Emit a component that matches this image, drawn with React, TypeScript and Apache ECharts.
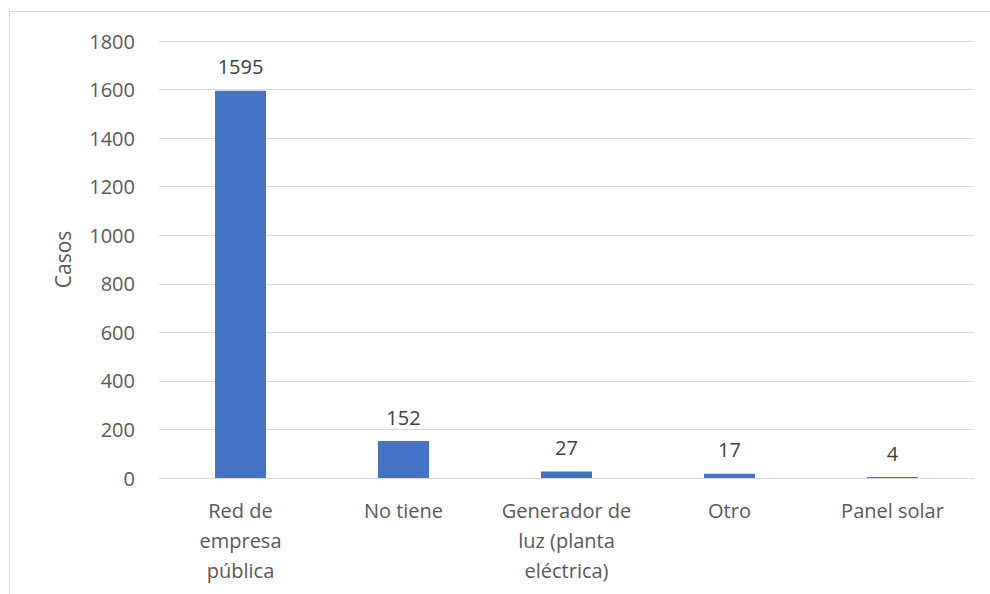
import React, { useEffect, useRef } from "react";
import * as echarts from "echarts";

const categories = [
  "Red de\nempresa\npública",
  "No tiene",
  "Generador de\nluz (planta\neléctrica)",
  "Otro",
  "Panel solar",
];
const values = [1595, 152, 27, 17, 4];
const yTicks = { min: 0, max: 1800, interval: 200 };
const axisName = "Casos";

export default function App() {
  const ref = useRef<HTMLDivElement>(null);
  useEffect(() => {
    if (!ref.current) return;
    const chart = echarts.init(ref.current, undefined, { renderer: "svg" });
    const font = "'Open Sans', sans-serif";
    chart.setOption({
      animation: false,
      backgroundColor: "#ffffff",
      graphic: [
        {
          type: "rect",
          shape: { x: 9.5, y: 11.5, width: 1000, height: 1000 },
          style: { fill: "none", stroke: "#d9d9d9", lineWidth: 1 },
          silent: true,
        },
      ],
      grid: { left: 159, right: 16, top: 41, bottom: 116 },
      xAxis: {
        type: "category",
        data: categories,
        axisLine: { lineStyle: { color: "#d9d9d9", width: 1 } },
        axisTick: { show: false },
        axisLabel: {
          interval: 0,
          color: "#595959",
          fontFamily: font,
          fontSize: 20,
          lineHeight: 30,
          margin: 17,
        },
      },
      yAxis: {
        type: "value",
        min: yTicks.min,
        max: yTicks.max,
        interval: yTicks.interval,
        name: axisName,
        nameLocation: "middle",
        nameGap: 86,
        nameRotate: 90,
        nameTextStyle: { color: "#595959", fontFamily: font, fontSize: 21 },
        axisLine: { show: false },
        axisTick: { show: false },
        splitLine: { lineStyle: { color: "#d9d9d9", width: 1 } },
        axisLabel: {
          color: "#595959",
          fontFamily: font,
          fontSize: 20,
          margin: 24,
          formatter: (v: number) => String(v),
        },
      },
      series: [
        {
          type: "bar",
          data: values,
          barWidth: 51,
          itemStyle: { color: "#4472C4" },
          label: {
            show: true,
            position: "top",
            distance: 14,
            color: "#404040",
            fontFamily: font,
            fontSize: 20,
          },
        },
      ],
    });
    return () => chart.dispose();
  }, []);
  return (
    <div
      ref={ref}
      style={{ position: "fixed", left: 0, top: 0, width: 990, height: 594 }}
    />
  );
}
